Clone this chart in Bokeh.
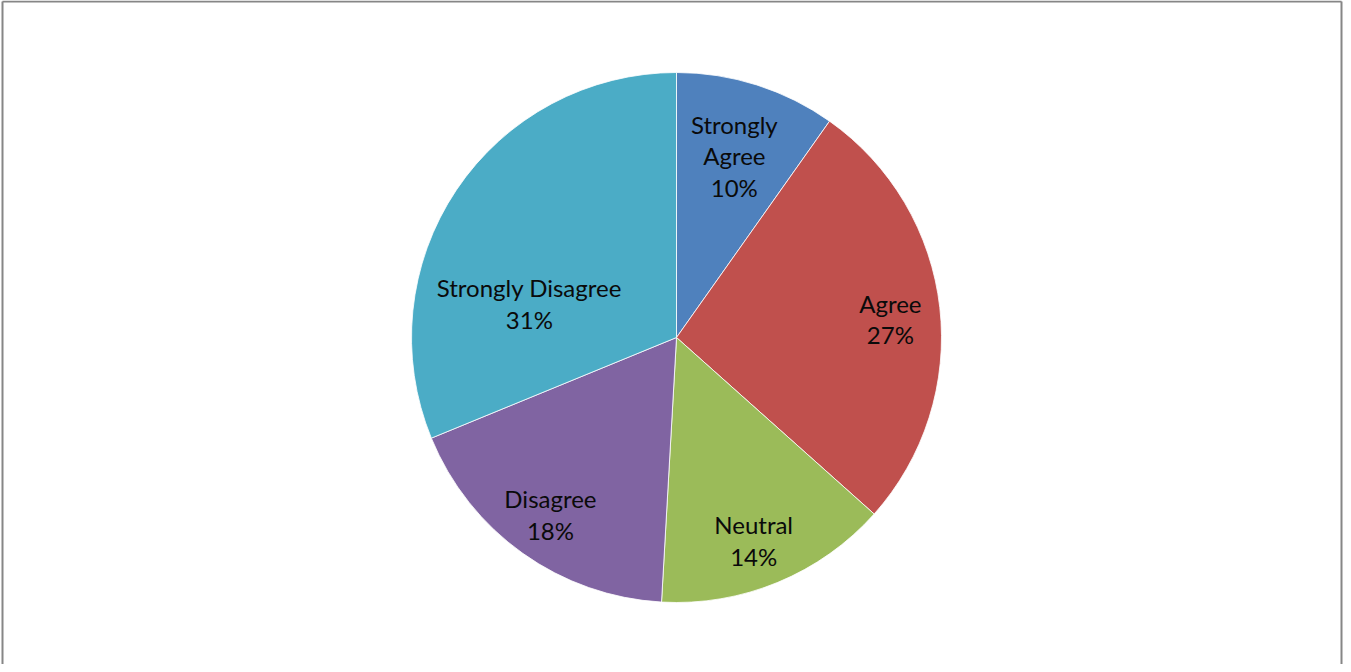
import math
from bokeh.plotting import figure
from bokeh.models import Range1d, ColumnDataSource
from bokeh.core.properties import value
from bokeh.embed import file_html
from bokeh.resources import INLINE

# ---- data ----
categories = ["Strongly Agree", "Agree", "Neutral", "Disagree", "Strongly Disagree"]
shares = [9.8, 26.8, 14.3, 17.9, 31.2]
pct_labels = ["10%", "27%", "14%", "18%", "31%"]
label_lines = [["Strongly", "Agree"], ["Agree"], ["Neutral"], ["Disagree"], ["Strongly Disagree"]]
colors = ["#4F81BD", "#C0504D", "#9BBB59", "#8064A2", "#4BACC6"]

# ---- layout ----
W, H = 1343, 664
cx, cy = 676, H - 337
R = 265
label_r = [0.72, 0.81, 0.82, 0.82, 0.57]
label_shift_deg = [0, 1.5, 1.7, 0, -20.8]
line_h = 31.5
font = "Lato"
fsize = "24px"

p = figure(width=W, height=H, output_backend="svg", toolbar_location=None,
           x_range=Range1d(0, W), y_range=Range1d(0, H), min_border=0)
p.axis.visible = False
p.grid.visible = False
p.outline_line_color = None
p.background_fill_color = "white"
p.border_fill_color = "white"

# chart-area frame (left, top, right edges; bottom is cut off in the reference)
p.segment(x0=[2, 2, W - 2], y0=[0, H - 1, H - 1], x1=[2, W - 2, W - 2], y1=[H - 1, H - 1, 0],
          line_color="#868686", line_width=2)

total = sum(shares)
starts, ends, mids = [], [], []
cum = 0.0
for s in shares:
    a0 = math.pi / 2 - 2 * math.pi * cum / total
    cum += s
    a1 = math.pi / 2 - 2 * math.pi * cum / total
    starts.append(a0)
    ends.append(a1)
    mids.append((a0 + a1) / 2)

src = ColumnDataSource(dict(x=[cx] * len(shares), y=[cy] * len(shares),
                            start=starts, end=ends, color=colors, cat=categories))
p.wedge(x="x", y="y", radius=R, start_angle="start", end_angle="end",
        direction="clock", fill_color="color", line_color="white", line_width=0.8,
        source=src)

tx, ty, tt = [], [], []
for i, cat in enumerate(categories):
    a = mids[i] - math.radians(label_shift_deg[i])
    lx = cx + R * label_r[i] * math.cos(a)
    ly = cy + R * label_r[i] * math.sin(a)
    lines = label_lines[i] + [pct_labels[i]]
    n = len(lines)
    for j, t in enumerate(lines):
        tx.append(lx)
        ty.append(ly + (n - 1) / 2 * line_h - j * line_h)
        tt.append(t)

p.text(x=tx, y=ty, text=tt, text_font=value(font), text_font_size=fsize,
       text_align="center", text_baseline="middle", text_color="#0a0a0a")

open("out.html", "w").write(file_html(p, INLINE))
